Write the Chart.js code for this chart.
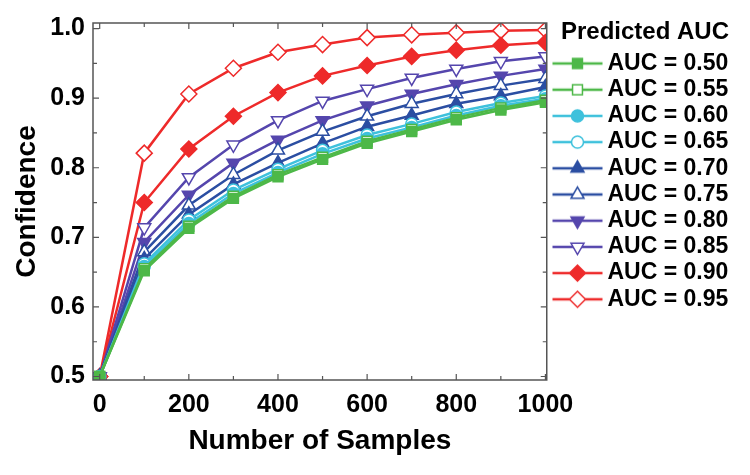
<!DOCTYPE html>
<html>
<head>
<meta charset="utf-8">
<script src="https://cdn.jsdelivr.net/npm/chart.js@4/dist/chart.umd.min.js"></script>
<style>
  body { margin: 0; background: #fff; }
  #wrap { width: 750px; height: 475px; }
</style>
</head>
<body>
<div id="wrap"><canvas id="chart" width="750" height="475"></canvas></div>
<script>
// data
const samples = [0, 100, 200, 300, 400, 500, 600, 700, 800, 900, 1000];
const auc50 = [0.5, 0.652, 0.713, 0.756, 0.787, 0.812, 0.835, 0.852, 0.869, 0.883, 0.894];
const auc55 = [0.5, 0.655, 0.716, 0.759, 0.790, 0.815, 0.838, 0.855, 0.872, 0.886, 0.897];
const auc60 = [0.5, 0.658, 0.720, 0.763, 0.793, 0.820, 0.842, 0.858, 0.875, 0.889, 0.899];
const auc65 = [0.5, 0.662, 0.725, 0.768, 0.798, 0.825, 0.847, 0.863, 0.880, 0.893, 0.903];
const auc70 = [0.5, 0.669, 0.733, 0.776, 0.807, 0.835, 0.859, 0.875, 0.892, 0.903, 0.916];
const auc75 = [0.5, 0.679, 0.746, 0.790, 0.825, 0.852, 0.874, 0.892, 0.906, 0.918, 0.928];
const auc80 = [0.5, 0.693, 0.761, 0.807, 0.840, 0.868, 0.889, 0.906, 0.920, 0.932, 0.942];
const auc85 = [0.5, 0.714, 0.786, 0.833, 0.868, 0.896, 0.913, 0.929, 0.942, 0.953, 0.960];
const auc90 = [0.5, 0.750, 0.827, 0.874, 0.908, 0.932, 0.947, 0.960, 0.969, 0.976, 0.980];
const auc95 = [0.5, 0.821, 0.906, 0.943, 0.966, 0.977, 0.987, 0.991, 0.994, 0.997, 0.998];
const seriesLabels = ['AUC = 0.50', 'AUC = 0.55', 'AUC = 0.60', 'AUC = 0.65', 'AUC = 0.70',
                      'AUC = 0.75', 'AUC = 0.80', 'AUC = 0.85', 'AUC = 0.90', 'AUC = 0.95'];
const xTickLabels = [0, 200, 400, 600, 800, 1000];
const yTickLabels = [0.5, 0.6, 0.7, 0.8, 0.9, 1.0];

const GREEN = '#4db848', CYAN = '#3ec1dc', BLUE = '#2b4ea2', PURPLE = '#5546ad', RED = '#ee2a2a';
const FONT = '"Liberation Sans", Arial, sans-serif';

// marker per series
const styles = [
  { color: GREEN, shape: 'rect', fill: true, r: 7, rot: 0 },
  { color: GREEN, shape: 'rect', fill: false, r: 7, rot: 0 },
  { color: CYAN, shape: 'circle', fill: true, r: 6, rot: 0 },
  { color: CYAN, shape: 'circle', fill: false, r: 6, rot: 0 },
  { color: BLUE, shape: 'triangle', fill: true, r: 7.5, rot: 0 },
  { color: BLUE, shape: 'triangle', fill: false, r: 7.5, rot: 0 },
  { color: PURPLE, shape: 'triangle', fill: true, r: 7.5, rot: 180 },
  { color: PURPLE, shape: 'triangle', fill: false, r: 7.5, rot: 180 },
  { color: RED, shape: 'rectRot', fill: true, r: 8, rot: 0 },
  { color: RED, shape: 'rectRot', fill: false, r: 8, rot: 0 }
];
const allSeries = [auc50, auc55, auc60, auc65, auc70, auc75, auc80, auc85, auc90, auc95];

const datasets = allSeries.map((vals, i) => {
  const s = styles[i];
  return {
    label: seriesLabels[i],
    data: samples.map((x, j) => ({ x: x, y: vals[j] })),
    borderColor: s.color,
    backgroundColor: s.fill ? s.color : '#ffffff',
    borderWidth: 2.5,
    pointStyle: s.shape,
    pointRotation: s.rot,
    pointRadius: s.r,
    pointBorderWidth: 1.5,
    pointBorderColor: s.color,
    pointBackgroundColor: s.fill ? s.color : '#ffffff',
    tension: 0
  };
});

// legend glyphs: line - marker - line (50px drawn inside a 60px canvas, shifted right)
const ICON_OFF = 9.5;
const legendIcons = styles.map(s => {
  const c = document.createElement('canvas');
  c.width = 60; c.height = 20;
  const ctx = c.getContext('2d');
  ctx.strokeStyle = s.color;
  ctx.lineWidth = 2.5;
  ctx.beginPath(); ctx.moveTo(ICON_OFF, 10); ctx.lineTo(ICON_OFF + 50, 10); ctx.stroke();
  ctx.fillStyle = s.fill ? s.color : '#ffffff';
  ctx.lineWidth = 1.5;
  Chart.helpers.drawPoint(ctx, { pointStyle: s.shape, rotation: s.rot, radius: s.r, borderWidth: 1.5 }, ICON_OFF + 25, 10);
  return c;
});

// frame and inward ticks on all four sides
const frameTicks = {
  id: 'frameTicks',
  afterDraw(chart) {
    const ctx = chart.ctx, a = chart.chartArea, scales = chart.scales;
    ctx.save();
    ctx.strokeStyle = '#555';
    ctx.lineWidth = 1.5;
    ctx.strokeRect(a.left, a.top, a.right - a.left, a.bottom - a.top);
    ctx.lineWidth = 1.2;
    ctx.beginPath();
    scales.x.ticks.forEach(t => {
      const px = scales.x.getPixelForValue(t.value);
      const len = t.value % 200 === 0 ? 6 : 4;
      ctx.moveTo(px, a.bottom); ctx.lineTo(px, a.bottom - len);
      ctx.moveTo(px, a.top); ctx.lineTo(px, a.top + len);
    });
    scales.y.ticks.forEach(t => {
      const py = scales.y.getPixelForValue(t.value);
      const major = yTickLabels.some(v => Math.abs(v - t.value) < 1e-6);
      const len = major ? 6 : 4;
      ctx.moveTo(a.left, py); ctx.lineTo(a.left + len, py);
      ctx.moveTo(a.right, py); ctx.lineTo(a.right - len, py);
    });
    ctx.stroke();
    ctx.restore();
  }
};

new Chart(document.getElementById('chart'), {
  type: 'line',
  data: { datasets: datasets },
  options: {
    responsive: false,
    animation: false,
    layout: { padding: { left: 0, top: 6, right: 21, bottom: 0 } },
    plugins: {
      tooltip: { enabled: false },
      legend: {
        position: 'right',
        align: 'start',
        title: {
          display: true,
          position: 'end',
          text: 'Predicted AUC',
          color: '#000',
          font: { family: FONT, size: 24, weight: 'bold' },
          padding: { top: 14, bottom: 0 }
        },
        labels: {
          color: '#000',
          font: { family: FONT, size: 23, weight: 'bold' },
          usePointStyle: true,
          pointStyleWidth: 46,
          padding: 3.2,
          generateLabels(chart) {
            const items = Chart.defaults.plugins.legend.labels.generateLabels(chart);
            items.forEach((it, i) => { it.pointStyle = legendIcons[i]; it.rotation = 0; });
            return items;
          }
        }
      }
    },
    scales: {
      x: {
        type: 'linear',
        min: -15,
        max: 1003,
        afterFit: s => { s.height = 95; },
        grid: { display: false, drawTicks: false },
        border: { display: false },
        ticks: {
          stepSize: 100,
          includeBounds: false,
          autoSkip: false,
          maxRotation: 0,
          padding: 10,
          color: '#000',
          font: { family: FONT, size: 25, weight: 'bold' },
          callback: v => xTickLabels.includes(v) ? String(v) : ''
        },
        title: {
          display: true,
          text: 'Number of Samples',
          color: '#000',
          font: { family: FONT, size: 28, weight: 'bold' },
          padding: { top: 0, bottom: 17 }
        }
      },
      y: {
        min: 0.495,
        max: 1.008,
        afterFit: s => { s.width = 93; },
        grid: { display: false, drawTicks: false },
        border: { display: false },
        ticks: {
          stepSize: 0.05,
          includeBounds: false,
          autoSkip: false,
          padding: 8,
          color: '#000',
          font: { family: FONT, size: 25, weight: 'bold' },
          callback: v => yTickLabels.some(l => Math.abs(l - v) < 1e-6) ? v.toFixed(1) : ''
        },
        title: {
          display: true,
          text: 'Confidence',
          color: '#000',
          font: { family: FONT, size: 28, weight: 'bold' },
          padding: { top: 10, bottom: 0 }
        }
      }
    }
  },
  plugins: [frameTicks]
});
</script>
</body>
</html>
